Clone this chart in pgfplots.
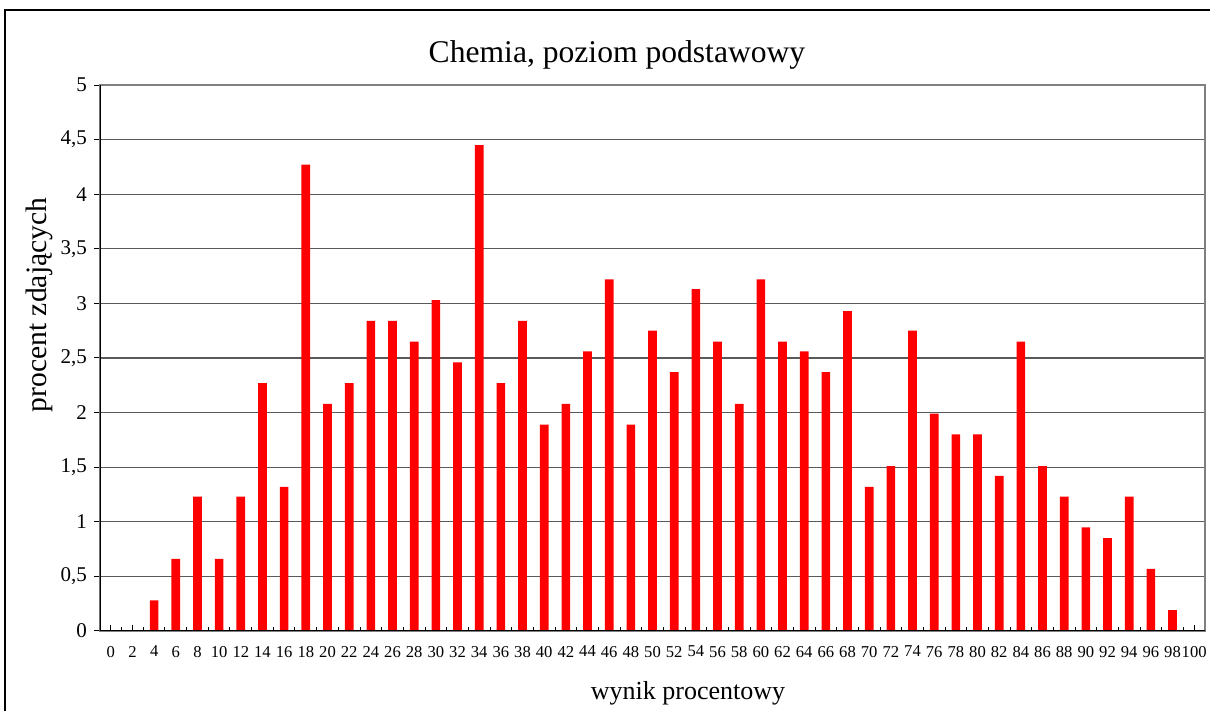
\documentclass[border=0pt]{standalone}
\usepackage{pgfplots}
\pgfplotsset{compat=1.18}
\usepackage{fontspec}
\setmainfont{Liberation Serif}
\definecolor{gridgray}{HTML}{5A5A5A}
\definecolor{boxgray}{HTML}{808080}
\begin{document}
\begin{tikzpicture}
\useasboundingbox (-50pt,-40pt) rectangle (555pt,315.5pt);
\draw[line width=1.1pt] (-47.5pt,-100pt) -- (-47.5pt,310.5pt) -- (700pt,310.5pt);
\begin{axis}[
  at={(0,0)}, anchor=south west,
  scale only axis,
  width=552.5pt, height=273pt,
  xmin=-1, xmax=101,
  ymin=0, ymax=5,
  ybar, bar width=0.8,
  axis line style={draw=boxgray, line width=0.9pt},
  xtick={0,2,...,100},
  minor xtick={-1,1,...,101},
  xtick pos=bottom, ytick pos=left,
  xtick align=inside, ytick align=outside,
  major tick length=3pt,
  minor tick length=1.8pt,
  every tick/.style={black, line width=0.5pt},
  ytick={0,0.5,...,5},
  ymajorgrids,
  grid style={draw=gridgray, line width=0.55pt},
  /pgf/number format/use comma,
  /pgf/number format/assume math mode=true,
  xticklabel style={font=\fontsize{8.3}{9}\selectfont, yshift=-4pt},
  yticklabel style={font=\fontsize{10.5}{12}\selectfont, xshift=0pt},
]
\addplot[fill=red, draw=none] coordinates {
(0,0) (2,0) (4,0.28) (6,0.66) (8,1.23) (10,0.66) (12,1.23) (14,2.27) (16,1.32) (18,4.27)
(20,2.08) (22,2.27) (24,2.84) (26,2.84) (28,2.65) (30,3.03) (32,2.46) (34,4.45) (36,2.27) (38,2.84)
(40,1.89) (42,2.08) (44,2.56) (46,3.22) (48,1.89) (50,2.75) (52,2.37) (54,3.13) (56,2.65) (58,2.08)
(60,3.22) (62,2.65) (64,2.56) (66,2.37) (68,2.93) (70,1.32) (72,1.51) (74,2.75) (76,1.99) (78,1.80)
(80,1.80) (82,1.42) (84,2.65) (86,1.51) (88,1.23) (90,0.95) (92,0.85) (94,1.23) (96,0.57) (98,0.19)
(100,0)
};
\draw[black, line width=0.9pt] (rel axis cs:0,1) -- (rel axis cs:0,0) -- (rel axis cs:1,0);
\draw[black, line width=0.9pt] (rel axis cs:0,0) -- ++(-3.5pt,0);
\end{axis}
\node[anchor=base, font=\fontsize{15.8}{18}\selectfont] at (258.5pt,284pt) {Chemia, poziom podstawowy};
\node[anchor=base, font=\fontsize{13}{15}\selectfont] at (294pt,-34.5pt) {wynik procentowy};
\node[rotate=90, font=\fontsize{14.8}{17}\selectfont] at (-30.5pt,163pt) {procent zdających};
\end{tikzpicture}
\end{document}
